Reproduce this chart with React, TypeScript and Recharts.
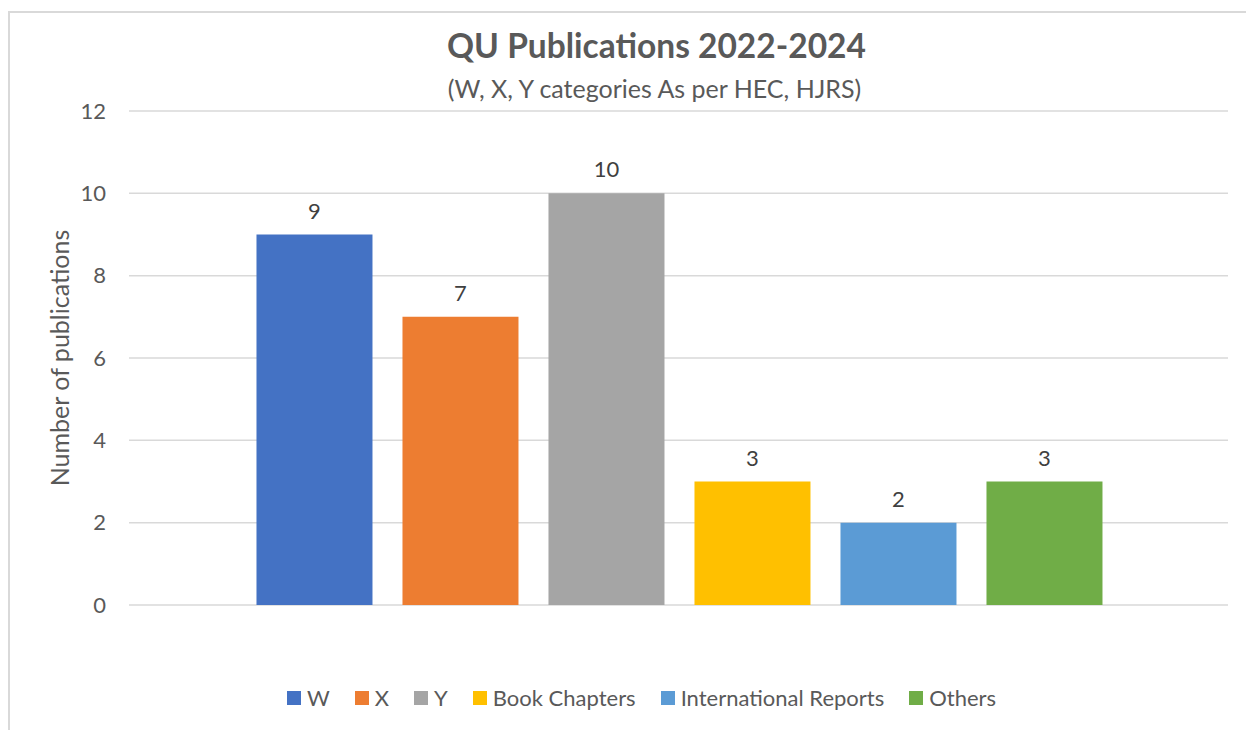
import React from 'react';
import { BarChart, Bar, XAxis, YAxis, CartesianGrid, LabelList } from 'recharts';

const SERIES = ['W', 'X', 'Y', 'Book Chapters', 'International Reports', 'Others'];
const VALUES = [9, 7, 10, 3, 2, 3];
const COLORS = ['#4472C4', '#ED7D31', '#A5A5A5', '#FFC000', '#5B9BD5', '#70AD47'];
const Y_TICKS = [0, 2, 4, 6, 8, 10, 12];

const FONT = 'Lato, "Noto Sans", sans-serif';
const TEXT = '#595959';

// one category row holding every series
const row: Record<string, string | number> = { name: 'Publications' };
SERIES.forEach((s, i) => { row[s] = VALUES[i]; });
const data = [row];

export default function App() {
  return (
    <div style={{ position: 'absolute', left: 0, top: 0, width: 1246, height: 730, background: '#fff', overflow: 'hidden', fontFamily: FONT }}>
      <div style={{ position: 'absolute', left: 8, top: 11, width: 1300, height: 800, border: '2px solid #d9d9d9', boxSizing: 'border-box' }} />
      <div style={{ position: 'absolute', left: 0, width: 1313, top: 24, textAlign: 'center', fontSize: 33.5, fontWeight: 700, color: TEXT, lineHeight: '42px' }}>
        QU Publications 2022-2024
      </div>
      <div style={{ position: 'absolute', left: 0, width: 1309, top: 73, textAlign: 'center', fontSize: 25, color: TEXT, lineHeight: '30px' }}>
        (W, X, Y categories As per HEC, HJRS)
      </div>
      <div style={{ position: 'absolute', left: 0, top: 0 }}>
        <BarChart width={1246} height={730} data={data} margin={{ top: 111, right: 18, bottom: 125, left: 0 }}
          barCategoryGap="11.6%" barGap={30}>
          <CartesianGrid vertical={false} stroke="#d9d9d9" strokeWidth={1.5} />
          <XAxis dataKey="name" hide />
          <YAxis width={129} domain={[0, 12]} ticks={Y_TICKS} axisLine={false} tickLine={false} tickSize={0} tickMargin={23}
            tick={{ fill: TEXT, fontSize: 22, fontFamily: FONT }}
            label={{ value: 'Number of publications', angle: -90, position: 'insideLeft', offset: 60, fill: TEXT, fontSize: 25, fontFamily: FONT, style: { textAnchor: 'middle' } }} />
          {SERIES.map((s, i) => (
            <Bar key={s} dataKey={s} fill={COLORS[i]} isAnimationActive={false}>
              <LabelList dataKey={s} position="top" offset={16} fill="#404040" fontSize={22} fontFamily={FONT} />
            </Bar>
          ))}
        </BarChart>
      </div>
      <div style={{ position: 'absolute', left: 287, top: 684, display: 'flex', alignItems: 'center', gap: 25, fontSize: 22, color: TEXT, whiteSpace: 'nowrap' }}>
        {SERIES.map((s, i) => (
          <div key={s} style={{ display: 'flex', alignItems: 'center' }}>
            <span style={{ width: 14, height: 14, background: COLORS[i], marginRight: 6, display: 'inline-block' }} />
            <span>{s}</span>
          </div>
        ))}
      </div>
    </div>
  );
}
